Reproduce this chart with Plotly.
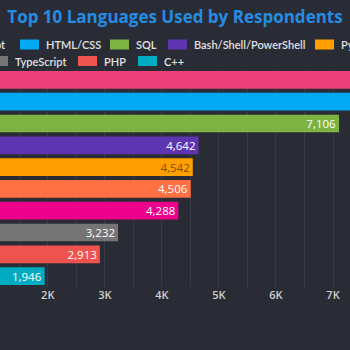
import plotly.graph_objects as go

# ---- data ----
languages = ["JavaScript", "HTML/CSS", "SQL", "Bash/Shell/PowerShell", "Python",
             "Java", "C#", "TypeScript", "PHP", "C++"]
respondents = [8800, 8100, 7106, 4642, 4542, 4506, 4288, 3232, 2913, 1946]
colors = ["#ec407a", "#03a9f4", "#7cb342", "#5e35b1", "#ffa000",
          "#ff7043", "#ec008c", "#757575", "#ef5350", "#00acc1"]
label_colors = ["#ffffff", "#ffffff", "#ffffff", "#ffffff", "#7a5200",
                "#ffffff", "#ffffff", "#ffffff", "#ffffff", "#ffffff"]
tick_values = [2000, 3000, 4000, 5000, 6000, 7000]
tick_labels = ["2K", "3K", "4K", "5K", "6K", "7K"]

# ---- layout constants ----
W, H = 350, 350
M_T, M_B = 69, 63
BG = "#2a2c35"
GRID = "#363946"
TEXT = "#e0e0e0"

# legend layout (pixel positions of swatch left edges, row index)
legend_box_x = [-70, 20, 110, 168, 315, -118, -69, -11, 78, 138]
legend_row = [0, 0, 0, 0, 0, 1, 1, 1, 1, 1]
row_center = [44.5, 61.0]

plot_h = H - M_T - M_B


def px_x(x):
    return x / W


def px_y(y):
    return (H - M_B - y) / plot_h


fig = go.Figure()
for name, val, col, lc in zip(languages, respondents, colors, label_colors):
    fig.add_trace(go.Bar(
        x=[val], y=[name], orientation="h", name=name,
        marker=dict(color=col, line=dict(width=0)),
        text=[f"{val:,}"], textposition="inside", insidetextanchor="end",
        textfont=dict(family="Open Sans", size=11.5, color=lc),
        cliponaxis=True, showlegend=False,
    ))

shapes = []
annotations = []
for name, col, bx, r in zip(languages, colors, legend_box_x, legend_row):
    cy = row_center[r]
    shapes.append(dict(type="rect", xref="paper", yref="paper",
                       x0=px_x(bx), x1=px_x(bx + 19),
                       y0=px_y(cy + 5), y1=px_y(cy - 5),
                       fillcolor=col, line=dict(width=0), layer="above"))
    annotations.append(dict(xref="paper", yref="paper", x=px_x(bx + 24), y=px_y(cy),
                            xanchor="left", yanchor="middle", showarrow=False,
                            text=name,
                            font=dict(family="Lato", size=11, color=TEXT, weight=600)))

fig.update_layout(
    width=W, height=H,
    margin=dict(l=0, r=0, t=M_T, b=M_B),
    paper_bgcolor=BG, plot_bgcolor=BG,
    title=dict(text="Top 10 Languages Used by Respondents", x=0.5, xanchor="center",
               y=1 - 17 / H, yanchor="middle",
               font=dict(family="Open Sans", size=17, color="#248ce3", weight="bold")),
    barmode="overlay", bargap=0.19,
    showlegend=False,
    shapes=shapes, annotations=annotations,
    xaxis=dict(range=[1163, 7298], tickvals=tick_values, ticktext=tick_labels,
               showgrid=True, gridcolor=GRID, gridwidth=1, zeroline=False,
               showline=False, ticks="",
               tickfont=dict(family="Open Sans", size=11, color="#d0d0d0", weight=600),
               minor=dict(dtick=500, showgrid=True, gridcolor=GRID, gridwidth=1)),
    yaxis=dict(categoryorder="array", categoryarray=languages, autorange="reversed",
               showticklabels=False, showgrid=False, zeroline=False, ticks=""),
    uniformtext=dict(minsize=10, mode="show"),
)

fig.write_html("out.html")
